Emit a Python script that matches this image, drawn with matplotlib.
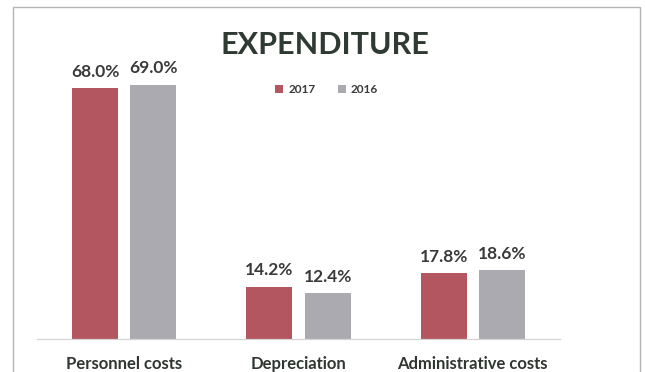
import matplotlib
matplotlib.use("Agg")
import matplotlib.pyplot as plt
from matplotlib.patches import Rectangle
import numpy as np

categories = ["Personnel costs", "Depreciation", "Administrative costs"]
series = ["2017", "2016"]
values_2017 = [68.0, 14.2, 17.8]
values_2016 = [69.0, 12.4, 18.6]
colors = {"2017": "#b3565f", "2016": "#abaab0"}

plt.rcParams["font.family"] = ["Lato", "DejaVu Sans"]

fig = plt.figure(figsize=(6.45, 3.72), dpi=100)
W, H = 645, 372
ax = fig.add_axes([37 / W, 1 - 339 / H, (560 - 37) / W, (339 - 44) / H])

x = np.arange(len(categories))
width = 0.265
offset = 0.167
b1 = ax.bar(x - offset, values_2017, width, color=colors["2017"], label="2017")
b2 = ax.bar(x + offset, values_2016, width, color=colors["2016"], label="2016")

for bars, vals in ((b1, values_2017), (b2, values_2016)):
    for rect, v in zip(bars, vals):
        ax.annotate(f"{v:.1f}%", (rect.get_x() + rect.get_width() / 2, v),
                    xytext=(0, 6), textcoords="offset points",
                    ha="center", va="bottom", fontsize=12.5,
                    fontweight="bold", color="#3a3a3a")

ax.set_xlim(-0.5, 2.5)
ax.set_ylim(0, 80)
ax.set_yticks([])
ax.set_xticks(x)
ax.set_xticklabels(categories, fontsize=12, fontweight="bold", color="#303632")
ax.tick_params(axis="x", length=0, pad=12)
for s in ("top", "right", "left"):
    ax.spines[s].set_visible(False)
ax.spines["bottom"].set_color("#d4d4d4")
ax.spines["bottom"].set_linewidth(0.9)

ax.legend(loc="upper left", bbox_to_anchor=(0.435, 0.9), ncol=2, frameon=False,
          handlelength=0.7, handleheight=0.7, handletextpad=0.4,
          columnspacing=1.9, prop={"size": 8.5, "weight": "bold"},
          labelcolor="#3a3a3a")

fig.text(325 / W, 1 - 45 / H, "EXPENDITURE", ha="center", va="center",
         fontsize=22, fontweight="bold", color="#2f3a33")

# outer chart frame
fig.patches.append(Rectangle((13 / W, -0.05), (640 - 13) / W, 1.05 - 7 / H,
                             transform=fig.transFigure, fill=False,
                             edgecolor="#b4b4b4", linewidth=1.0))

fig.savefig("out.png", dpi=100)
